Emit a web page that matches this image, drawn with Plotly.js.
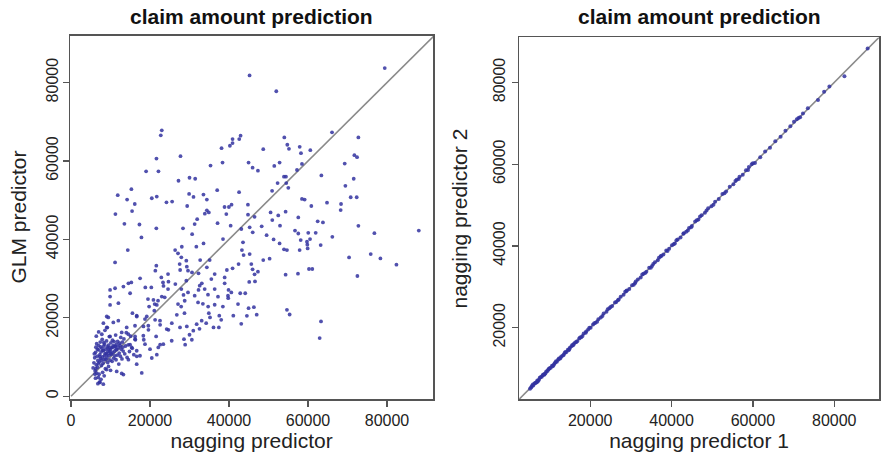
<!DOCTYPE html>
<html>
<head>
<meta charset="utf-8">
<script src="https://cdn.plot.ly/plotly-3.0.1.min.js"></script>
<style>html,body{margin:0;padding:0;background:#fff;}#chart{width:883px;height:459px;}</style>
</head>
<body>
<div id="chart"></div>
<script>
// Panel titles and axis labels
const panelTitle = "claim amount prediction";
const leftXLabel = "nagging predictor";
const leftYLabel = "GLM predictor";
const rightXLabel = "nagging predictor 1";
const rightYLabel = "nagging predictor 2";

// Tick values / labels
const leftTickVals = [0, 20000, 40000, 60000, 80000];
const leftTickText = ["0", "20000", "40000", "60000", "80000"];
const rightTickVals = [20000, 40000, 60000, 80000];
const rightTickText = ["20000", "40000", "60000", "80000"];

// Left panel: [nagging predictor, GLM predictor]
const leftPairs = [
[79430,83690],[45200,81800],[51970,77770],[22980,67820],[22730,66530],[66080,67300],[72750,66010],[54000,66010],
[42930,66440],[42590,65580],[40900,65580],[40900,64560],[40230,63870],[38110,63270],[54760,64130],[55180,63100],
[57890,63610],[48670,63010],[60590,62760],[58220,61980],[71740,61470],[72420,60950],[27720,61210],[21630,60610],
[69290,59320],[44950,59580],[38360,59580],[52810,59580],[51460,58720],[35320,58810],[58470,59230],[45970,58290],
[47320,57520],[19010,57350],[22140,57350],[57210,57690],[63380,56320],[53910,55980],[54420,55980],[30000,55720],
[31440,55460],[27210,54950],[71570,55460],[69460,53660],[54500,54350],[52300,54350],[55020,53150],[50910,52370],
[42550,52030],[37010,52540],[29900,51600],[33530,51430],[11830,51260],[15290,52800],[14200,50140],[21710,50910],
[20450,50480],[34390,50140],[16140,49020],[24170,49450],[25600,49630],[29410,48510],[31010,50830],[34390,47400],
[34890,46880],[33880,46540],[58470,50310],[59150,50140],[60840,48510],[64810,49370],[68360,49020],[70810,50740],
[72330,50740],[68270,47480],[44790,48850],[38870,48250],[39970,48250],[40640,48850],[15460,47220],[11240,46450],
[13520,43960],[17320,43790],[31940,45160],[37100,44140],[46470,45750],[50530,46880],[52470,46110],[54330,47050],
[57540,45590],[63780,44310],[72750,43450],[88050,42250],[39320,46460],[44810,46290],
[76810,41590],[66160,40660],[61940,41670],[60060,41670],[59740,39390],[59910,37690],[57880,37270],[57540,41500],
[54670,37270],[51290,39980],[49520,41080],[52810,38960],[63210,38540],[70390,35400],[75880,36250],[78330,35150],
[82390,33540],[72500,30660],[60250,32440],[61090,32440],[57460,31250],[54330,31000],[54670,22020],[55350,20840],
[63290,19060],[62950,14820],[50280,35070],[48670,34730],[47320,31760],[45970,32360],[46470,31080],[45120,29140],
[44110,26260],[42840,26260],[46300,22700],[44950,22450],[44530,20500],[43100,18460],[43270,37270],[43690,36000],
[42420,33710],[40900,32610],[39460,32190],[39880,27100],[39800,24990],[38450,22870],[38030,19480],[37430,17530],
[36080,17530],[34220,18630],[34890,21180],[34720,22870],[33380,23550],[32280,27100],[33120,28800],[32280,31340],
[34390,32860],[32700,34730],[33550,38960],[30670,41330],[28050,38110],[26360,37270],[29320,33030],[27630,32190],
[28480,25830],[27890,22870],[28730,21180],[29320,17790],[30000,15670],[28900,13130],[30590,14400],[32530,17190],
[24670,29220],[23410,28120],[22980,25410],[21720,23290],[20870,24560],[19770,22870],[19180,20330],[21290,19480],
[22560,18210],[24670,16940],[25520,18630],[26790,20750],[21550,15250],[22560,13130],[21720,10590],[20450,9740],
[17490,30070],[14530,28800],[13270,27950],[11150,27530],[9890,27100],[14370,37270],[17830,40490],[11150,34130],
[9890,25410],[14960,26260],[12000,23720],[9890,23290],[15550,21180],[16650,20330],[18340,17790],[19600,16940],
[18420,14400],[16220,15250],[14960,13130],[16650,10160],[17910,5930],[13270,5510],[14530,9320],[11150,12710],
[9890,15250],[9040,20330],[8200,18630],
[21600,42810],[28350,42810],[31300,43910],[40420,43500],[43120,42640],[45230,43070],[38480,40080],[31730,38140],
[27090,36430],[27930,35410],[29190,34570],[27510,33700],[29620,32010],[30630,31580],[35110,34720],[36370,31150],
[38900,30300],[43540,39240],[45230,36250],[21600,33290],[21350,32010],[22870,30300],[24560,31150],[23290,29030],
[15270,29030],[18810,27750],[20330,27750],[24560,27320],[26410,28600],[27930,27320],[29190,29460],[29620,26470],
[31310,25630],[32580,28180],[33840,27320],[35530,29870],[36370,27320],[38900,28800],[40590,26470],[42280,23490],
[39740,25630],[37210,25380],[34680,25890],[22030,24360],[23720,25210],[19490,24760],[21180,23490],[27090,23490],
[28780,24340],[32160,23910],[36370,23320],
[62450,44600],[60510,40080],[58150,39830],[59830,38650],[56710,42230],[52910,43500],[50960,44930],[48270,43320],
[46000,41790],[53920,37450],[45650,33700],[46580,29280],[47010,20780],
[21090,21800],[22530,19250],[24220,17110],[27590,17540],[28600,14550],[30960,16700],[31810,18380],[33080,19250],
[35190,20090],[37540,20530],[41090,20530],[25490,14140],[23370,13280],[22100,12430],[20000,12000],[18730,13280],
[16630,11590],[15370,12430],[18310,15420],[16200,14550],[14510,15830],[12830,16260],[10710,18810],[11980,19250],
[9440,20090],[9040,17540],[14100,17540],[16200,17970],[18730,19660],[19570,17970],[16630,20530],[12830,5800],
[11560,6310],[16630,8170],[17470,10310],[8180,3060],[7340,3500],[6910,4770],[6080,5620],
[5600,7200],[5800,8500],[6000,9800],[6100,6500],[6200,11200],[6300,12500],[6400,8000],[6500,13400],
[6600,10200],[6700,7400],[6800,9100],[6900,11800],[7000,12900],[7100,5600],[7200,8700],[7300,10600],
[7400,13800],[7500,9600],[7600,11300],[7700,7800],[7800,12200],[7900,14500],[8000,10000],[8100,8400],
[8200,11700],[8300,12800],[8400,9300],[8500,13300],[8600,10800],[8700,7000],[8800,12000],[8900,11000],
[9000,14100],[9100,9800],[9200,12600],[9300,8600],[9400,11400],[9500,13000],[9600,10400],[9700,15200],
[9800,12300],[9900,9200],[10000,11800],[10100,13600],[10200,10700],[10300,12400],[10400,8900],[10500,14300],
[10600,11100],[10700,12900],[10800,9700],[10900,13900],[11000,11500],[11100,10300],[11200,12700],[11300,15600],
[11400,9300],[11500,13200],[11600,11900],[11700,10500],[11800,14000],[12000,12500],[12100,8200],[12200,11000],
[12300,13500],[12500,10200],[12600,15000],[12700,12000],[12900,9500],[13000,13800],[13200,11500],[13400,14600],
[13600,10800],[13800,12800],[14000,16200],[14200,9900],[14500,13100],[14800,11400],[15100,15300],[15500,12200],
[15900,10600],[16300,14400],[6200,4600],[6500,5900],[6800,3200],[7200,3600],[7600,4300],[8000,6100],
[8400,5200],[9000,6800],[9500,7600],[10000,6600],[6400,15300],[7000,16400],[7800,15800],[8600,16800],
[9200,17500],[7300,10100],[8100,11600],[8800,9400],[9400,12100],[10100,10900],[6700,12000],[7500,12600],
[8300,13700],[9100,10700],[9800,11400],[10600,12500],[11400,11900],[12400,13000],[13100,12500],[5900,10800],
[6300,7000],[6900,8300],[7700,9200],[8500,10300]
];

// Right panel: [nagging predictor 1, nagging predictor 2]
const rightPairs = [
[5200,5100],[5600,5700],[6000,5900],[6300,6400],[6700,6600],[7000,7100],[7400,7300],[7800,7900],[8100,8000],
[8500,8600],[8800,8700],[9200,9300],[9500,9400],[9900,10000],[10300,10200],[10600,10700],[11000,10900],
[11400,11500],[11800,11700],[12100,12200],[12500,12400],[12900,13000],[13300,13200],[13700,13800],[14100,14000],
[14500,14600],[14900,14800],[15400,15500],[15800,15700],[16300,16400],[16800,16700],[17300,17400],[17800,17700],
[18400,18600],[18900,18800],[19500,19600],[20100,20000],[20700,20800],[21300,21200],[22000,22100],[22600,22500],
[23300,23500],[24000,23900],[24700,24800],[25400,25300],[26100,26200],[26800,26700],[27500,27600],[28200,28100],
[28900,29000],[29600,29500],[30300,30400],[31000,30900],[31700,31800],[32400,32300],[33100,33200],[33800,33700],
[34500,34700],[35200,35100],[35900,36000],[36600,36500],[37300,37400],[38000,37900],[38700,38900],[39400,39300],
[40100,40200],[40800,40600],[41500,41600],[42200,42100],[42900,43000],[43600,43500],[44300,44400],[45000,44900],
[45800,46000],[46600,46500],[47400,47500],[48200,48100],[49000,49200],[49800,49700],[50700,50800],[51600,51500],
[52500,52700],[53400,53300],[54300,54500],[55200,55100],[56000,56200],[56700,56900],[57500,57400],[58300,58500],
[59000,59300],[59700,60000],[60500,60300],[61800,61700],[63000,63100],[64200,64000],[65500,65600],[66800,66700],
[68000,68200],[69200,69300],[70100,70400],[70800,71000],[71600,71500],[72300,72400],[73500,73700],[76000,75700],
[77500,77700],[78800,79000],[82500,81500],[88200,88300],
[5500,5400],[6500,6500],[7200,7000],[8300,8400],[9000,8900],[10000,10100],[11200,11200],[12300,12500],
[13500,13400],[15000,15100],[16000,16100],[17500,17600],[19000,19100],[21000,21100],[23000,22900],[25000,25100],
[27000,26900],[29000,29100],[31200,31300],[33500,33400],[35500,35600],[37500,37600],[40500,40400],[43000,43100],
[44800,44600],[46200,46300],[48600,48700],[53000,52900],[56500,56400],[60000,60200],
[5900,6100],[6900,6700],[7600,7800],[8700,8500],[9700,9800],[10800,10600],[11600,11800],[12700,12600],
[13900,14100],[14700,14500],[15600,15800],[16600,16500],[18100,18000],[19800,20000],[21700,21500],[24300,24500],
[26400,26300],[28600,28800],[30700,30500],[32800,33000],[34900,34700],[36900,37100],[39000,38800],[41200,41400],
[44000,43800],[47000,47200],[50300,50100],[55700,55900],[58800,58600],[71200,71300]
];

// Reference diagonal (identity line) endpoints
const diagonal = [0, 100000];

const dotColor = "rgba(50,50,160,0.85)";
const lineColor = "#8a8a8a";

const traces = [
  {x: diagonal, y: diagonal, xaxis: "x", yaxis: "y", mode: "lines", line: {color: lineColor, width: 1.6}, hoverinfo: "skip"},
  {x: leftPairs.map(p => p[0]), y: leftPairs.map(p => p[1]), xaxis: "x", yaxis: "y", mode: "markers", type: "scatter",
   marker: {color: dotColor, size: 3.8}},
  {x: diagonal, y: diagonal, xaxis: "x2", yaxis: "y2", mode: "lines", line: {color: lineColor, width: 1.6}, hoverinfo: "skip"},
  {x: rightPairs.map(p => p[0]), y: rightPairs.map(p => p[1]), xaxis: "x2", yaxis: "y2", mode: "markers", type: "scatter",
   marker: {color: dotColor, size: 4}}
];

const fontFam = "Liberation Sans, Arial, sans-serif";
const axisCommon = {
  showgrid: false, zeroline: false, showline: true, mirror: true,
  linecolor: "#555", linewidth: 1.5, ticks: "outside", ticklen: 6, tickwidth: 1.2, tickcolor: "#555",
  tickfont: {family: fontFam, size: 16, color: "#222"}, automargin: false
};
const titleFont = {family: fontFam, size: 21, color: "#222"};

const layout = {
  width: 883, height: 459,
  margin: {l: 0, r: 0, t: 0, b: 0},
  paper_bgcolor: "#fff", plot_bgcolor: "#fff",
  showlegend: false,
  font: {family: fontFam, color: "#222"},
  xaxis: Object.assign({}, axisCommon, {domain: [0.0793, 0.4904], range: [-250, 91650], anchor: "y",
    tickmode: "array", tickvals: leftTickVals, ticktext: leftTickText,
    title: {text: leftXLabel, font: titleFont, standoff: 4}}),
  yaxis: Object.assign({}, axisCommon, {domain: [0.13, 0.9216], range: [-800, 91870], anchor: "x",
    tickmode: "array", tickvals: leftTickVals, ticktext: leftTickText, tickangle: -90, ticklabelstandoff: -2}),
  xaxis2: Object.assign({}, axisCommon, {domain: [0.5878, 0.9955], range: [2500, 91000], anchor: "y2",
    tickmode: "array", tickvals: rightTickVals, ticktext: rightTickText,
    title: {text: rightXLabel, font: titleFont, standoff: 4}}),
  yaxis2: Object.assign({}, axisCommon, {domain: [0.13, 0.9185], range: [2500, 91000], anchor: "x2",
    tickmode: "array", tickvals: rightTickVals, ticktext: rightTickText, tickangle: -90, ticklabelstandoff: 0}),
  annotations: [
    {text: "<b>" + panelTitle + "</b>", xref: "paper", yref: "paper", x: 0.2848, y: 0.963, xanchor: "center", yanchor: "middle",
     showarrow: false, font: {family: fontFam, size: 21, color: "#111"}},
    {text: "<b>" + panelTitle + "</b>", xref: "paper", yref: "paper", x: 0.7925, y: 0.963, xanchor: "center", yanchor: "middle",
     showarrow: false, font: {family: fontFam, size: 21, color: "#111"}},
    {text: leftYLabel, xref: "paper", yref: "paper", x: 19 / 883, y: 0.526, xanchor: "center", yanchor: "middle",
     textangle: -90, showarrow: false, font: titleFont},
    {text: rightYLabel, xref: "paper", yref: "paper", x: 459 / 883, y: 0.524, xanchor: "center", yanchor: "middle",
     textangle: -90, showarrow: false, font: titleFont}
  ]
};

Plotly.newPlot("chart", traces, layout, {displayModeBar: false, staticPlot: true});
</script>
</body>
</html>
